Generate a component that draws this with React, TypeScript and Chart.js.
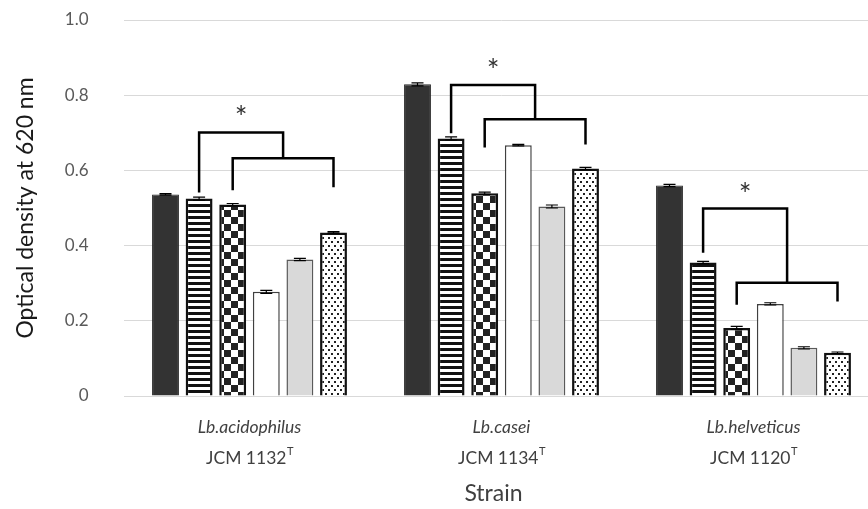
import { useEffect, useRef } from 'react';
import { Chart, registerables } from 'chart.js';

Chart.register(...registerables);

// Strains on the category axis
const strains = ['Lb.acidophilus', 'Lb.casei', 'Lb.helveticus'];
const strainCodes = ['JCM 1132', 'JCM 1134', 'JCM 1120'];
const typeStrainMark = 'T';

// Y axis ticks
const yTicks = [0, 0.2, 0.4, 0.6, 0.8, 1.0];

// Mean optical density (620 nm) for each growth condition, per strain
const seriesNames = ['Condition A', 'Condition B', 'Condition C', 'Condition D', 'Condition E', 'Condition F'];
const condA = [0.536, 0.829, 0.560];
const condB = [0.525, 0.685, 0.355];
const condC = [0.509, 0.539, 0.181];
const condD = [0.277, 0.667, 0.245];
const condE = [0.363, 0.504, 0.128];
const condF = [0.435, 0.605, 0.115];

// Standard deviations
const errA = [0.002, 0.004, 0.003];
const errB = [0.004, 0.004, 0.003];
const errC = [0.003, 0.003, 0.004];
const errD = [0.004, 0.002, 0.003];
const errE = [0.003, 0.004, 0.003];
const errF = [0.002, 0.003, 0.002];

// Significance brackets (levels in optical density units)
const outerBracketLevel = [0.701, 0.827, 0.499];
const outerLegEnd = [0.541, 0.699, 0.381];
const innerBracketLevel = [0.632, 0.736, 0.301];
const innerLeftLegEnd = [0.547, 0.661, 0.243];
const innerRightLegEnd = [0.555, 0.669, 0.251];
const starLevel = [0.757, 0.883, 0.552];
const starText = '*';

const FONT = 'Lato, "Liberation Sans", sans-serif';

function makePattern(kind: string): CanvasPattern | string {
  const c = document.createElement('canvas');
  const ctx = c.getContext('2d')!;
  if (kind === 'stripes') {
    c.width = 6; c.height = 6;
    ctx.fillStyle = '#ffffff'; ctx.fillRect(0, 0, 6, 6);
    ctx.fillStyle = '#111111'; ctx.fillRect(0, 0, 6, 3);
  } else if (kind === 'checker') {
    c.width = 14; c.height = 14;
    ctx.fillStyle = '#ffffff'; ctx.fillRect(0, 0, 14, 14);
    ctx.fillStyle = '#222222';
    ctx.fillRect(0, 0, 7, 7);
    ctx.fillRect(7, 7, 7, 7);
  } else {
    c.width = 6; c.height = 8;
    ctx.fillStyle = '#ffffff'; ctx.fillRect(0, 0, 6, 8);
    ctx.fillStyle = '#222222';
    ctx.fillRect(1, 1, 2, 2);
    ctx.fillRect(4, 5, 2, 2);
  }
  return ctx.createPattern(c, 'repeat') || '#ffffff';
}

export default function App() {
  const ref = useRef<HTMLCanvasElement>(null);

  useEffect(() => {
    const canvas = ref.current!;
    const values = [condA, condB, condC, condD, condE, condF];
    const errors = [errA, errB, errC, errD, errE, errF];
    const fills = ['#333333', makePattern('stripes'), makePattern('checker'), '#ffffff', '#d9d9d9', makePattern('dots')];
    const borders = ['#262626', '#111111', '#111111', '#404040', '#5a5a5a', '#111111'];
    const borderWidths = [1, 2.5, 2.5, 1.5, 1.5, 2.5];

    const overlay = {
      id: 'overlay',
      afterDatasetsDraw(chart: any) {
        const ctx = chart.ctx;
        const y = chart.scales.y;
        const x = chart.scales.x;
        ctx.save();
        // error caps
        ctx.strokeStyle = '#000000';
        ctx.lineWidth = 1.2;
        values.forEach((vals, si) => {
          const meta = chart.getDatasetMeta(si);
          vals.forEach((v, ci) => {
            const bar = meta.data[ci];
            const e = errors[si][ci];
            const yHi = y.getPixelForValue(v + e);
            const yLo = y.getPixelForValue(v - e);
            ctx.beginPath();
            ctx.moveTo(bar.x, yHi); ctx.lineTo(bar.x, yLo);
            ctx.moveTo(bar.x - 6, yHi); ctx.lineTo(bar.x + 6, yHi);
            ctx.moveTo(bar.x - 6, yLo); ctx.lineTo(bar.x + 6, yLo);
            ctx.stroke();
          });
        });
        // significance brackets
        ctx.lineWidth = 2.5;
        ctx.strokeStyle = '#000000';
        ctx.lineJoin = 'miter';
        strains.forEach((_, ci) => {
          const xB = chart.getDatasetMeta(1).data[ci].x;
          const xC = chart.getDatasetMeta(2).data[ci].x;
          const xF = chart.getDatasetMeta(5).data[ci].x;
          const xMid = (xC + xF) / 2;
          const yOuter = y.getPixelForValue(outerBracketLevel[ci]);
          const yInner = y.getPixelForValue(innerBracketLevel[ci]);
          ctx.beginPath();
          ctx.moveTo(xB, y.getPixelForValue(outerLegEnd[ci]));
          ctx.lineTo(xB, yOuter);
          ctx.lineTo(xMid, yOuter);
          ctx.lineTo(xMid, yInner);
          ctx.stroke();
          ctx.beginPath();
          ctx.moveTo(xC, y.getPixelForValue(innerLeftLegEnd[ci]));
          ctx.lineTo(xC, yInner);
          ctx.lineTo(xF, yInner);
          ctx.lineTo(xF, y.getPixelForValue(innerRightLegEnd[ci]));
          ctx.stroke();
          ctx.fillStyle = '#333333';
          ctx.font = `30px ${FONT}`;
          ctx.textAlign = 'center';
          ctx.textBaseline = 'alphabetic';
          ctx.fillText(starText, (xB + xMid) / 2, y.getPixelForValue(starLevel[ci]) + 17);
        });
        // category labels
        ctx.fillStyle = '#404040';
        strains.forEach((name, ci) => {
          const cx = x.getPixelForValue(ci);
          ctx.textAlign = 'center';
          ctx.textBaseline = 'middle';
          ctx.font = `italic 17.5px ${FONT}`;
          ctx.fillText(name, cx, 427);
          ctx.font = `17.5px ${FONT}`;
          const code = strainCodes[ci];
          const w = ctx.measureText(code).width;
          ctx.font = `11px ${FONT}`;
          const wt = ctx.measureText(typeStrainMark).width;
          const start = cx - (w + wt) / 2;
          ctx.textAlign = 'left';
          ctx.font = `17.5px ${FONT}`;
          ctx.fillText(code, start, 458);
          ctx.font = `11px ${FONT}`;
          ctx.fillText(typeStrainMark, start + w + 0.5, 451);
        });
        // axis titles
        ctx.textAlign = 'center';
        ctx.textBaseline = 'middle';
        ctx.font = `23px ${FONT}`;
        ctx.fillText('Strain', (chart.chartArea.left + chart.chartArea.right) / 2 - 8, 494);
        ctx.save();
        ctx.translate(26, (chart.chartArea.top + chart.chartArea.bottom) / 2);
        ctx.rotate(-Math.PI / 2);
        ctx.fillStyle = '#1a1a1a';
        ctx.fillText('Optical density at 620 nm', 0, 0);
        ctx.restore();
        ctx.restore();
      },
    };

    const chart = new Chart(canvas, {
      type: 'bar',
      data: {
        labels: strains,
        datasets: values.map((vals, i) => ({
          label: seriesNames[i],
          data: vals,
          backgroundColor: fills[i] as any,
          borderColor: borders[i],
          borderWidth: borderWidths[i],
          borderSkipped: 'bottom',
          categoryPercentage: 0.8,
          barPercentage: 0.8,
        })),
      },
      options: {
        animation: false,
        responsive: false,
        devicePixelRatio: 1,
        layout: { padding: { top: 20, right: 10.5, left: 0, bottom: 0 } },
        plugins: { legend: { display: false }, tooltip: { enabled: false } },
        scales: {
          x: {
            grid: { display: false },
            border: { display: false },
            ticks: { display: false },
            afterFit: (s: any) => { s.height = 113; },
          },
          y: {
            min: 0,
            max: 1,
            afterBuildTicks: (s: any) => { s.ticks = yTicks.map((v) => ({ value: v })); },
            grid: { color: '#d9d9d9', lineWidth: 1, drawTicks: false },
            border: { display: false },
            ticks: {
              color: '#595959',
              font: { family: FONT, size: 17 },
              padding: 35,
              callback: (v: any) => (Number(v) === 0 ? '0' : Number(v).toFixed(1)),
            },
            afterFit: (s: any) => {
              s.width = 123.5;
              s.paddingTop = 0;
              s.paddingBottom = 0;
            },
          },
        },
      },
      plugins: [overlay],
    });
    return () => chart.destroy();
  }, []);

  return (
    <div style={{ position: 'fixed', left: 0, top: 0, width: 868, height: 509, overflow: 'hidden', background: '#ffffff' }}>
      <canvas ref={ref} width={890} height={509} style={{ width: 890, height: 509, display: 'block' }} />
    </div>
  );
}
